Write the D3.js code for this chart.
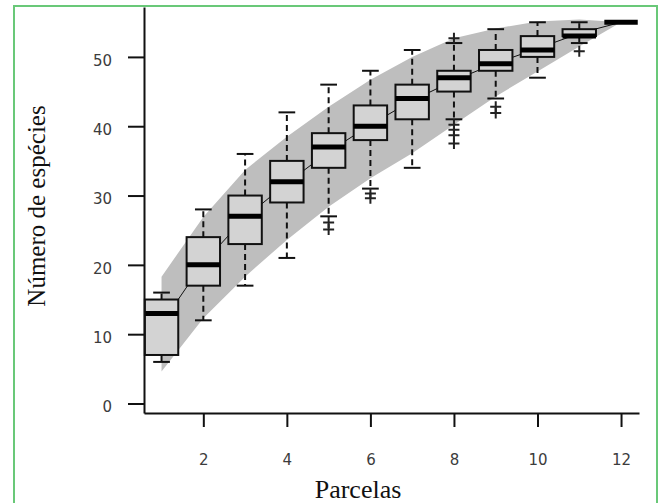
<!DOCTYPE html>
<html>
<head>
<meta charset="utf-8">
<script src="https://cdn.jsdelivr.net/npm/d3@7"></script>
<style>
  body { margin: 0; background: #fff; }
</style>
</head>
<body>
<script>
// species accumulation curve: boxplots per number of plots, mean line and +/- 2 sd envelope
const parcelas = [1, 2, 3, 4, 5, 6, 7, 8, 9, 10, 11, 12];
const whiskerLow = [6, 12, 17, 21, 27, 31, 34, 41, 44, 47, 52, 55];
const q1 = [7, 17, 23, 29, 34, 38, 41, 45, 48, 50, 53, 55];
const median = [13, 20, 27, 32, 37, 40, 44, 47, 49, 51, 53, 55];
const q3 = [15, 24, 30, 35, 39, 43, 46, 48, 51, 53, 54, 55];
const whiskerHigh = [16, 28, 36, 42, 46, 48, 51, 52, 54, 55, 55, 55];
const outliers = [[], [], [], [], [26.1, 25.1], [30.3, 29.6], [], [52.7, 40.2, 39.5, 38.7, 37.5], [42.8, 41.9], [], [50.8], []];
const meanRichness = [11.5, 20.3, 26.8, 31.8, 36.3, 40.2, 43.7, 46.6, 49.1, 51.2, 53.4, 55];
const bandUpper = [18.3, 26.9, 33.7, 38.5, 42.8, 46.7, 50.0, 52.7, 54.1, 55.1, 55.4, 55];
const bandLower = [4.6, 12.3, 18.3, 23.6, 28.4, 32.5, 36.1, 40.2, 44.3, 47.9, 51.5, 55];
const yTicks = [0, 10, 20, 30, 40, 50];
const xTicks = [2, 4, 6, 8, 10, 12];

const width = 662, height = 503;
const plot = {left: 144, right: 639, top: 7, bottom: 413};

const svg = d3.select("body").append("svg")
  .attr("width", width)
  .attr("height", height);

// green frame around the figure
svg.append("rect")
  .attr("x", 14).attr("y", 6)
  .attr("width", 643).attr("height", 520)
  .attr("fill", "none")
  .attr("stroke", "#69c878")
  .attr("stroke-width", 2);

const x = d3.scaleLinear().domain([0.58, 12.43]).range([plot.left, plot.right]);
const y = d3.scaleLinear().domain([-1.37, 57.2]).range([plot.bottom, plot.top]);

const idx = d3.range(parcelas.length);

// envelope
svg.append("path")
  .datum(idx)
  .attr("fill", "#bebebe")
  .attr("d", d3.area()
    .x(i => x(parcelas[i]))
    .y0(i => y(bandLower[i]))
    .y1(i => y(bandUpper[i])));

// mean curve
svg.append("path")
  .datum(idx)
  .attr("fill", "none")
  .attr("stroke", "#111")
  .attr("stroke-width", 1)
  .attr("d", d3.line()
    .x(i => x(parcelas[i]))
    .y(i => y(meanRichness[i])));

const bw = x(0.8) - x(0);
const capW = bw / 2;

const box = svg.selectAll(".box")
  .data(idx)
  .enter().append("g")
  .attr("class", "box");

// whiskers
box.append("line")
  .attr("x1", i => x(parcelas[i])).attr("x2", i => x(parcelas[i]))
  .attr("y1", i => y(q3[i])).attr("y2", i => y(whiskerHigh[i]))
  .attr("stroke", "#111").attr("stroke-width", 2)
  .attr("stroke-dasharray", "6,4");
box.append("line")
  .attr("x1", i => x(parcelas[i])).attr("x2", i => x(parcelas[i]))
  .attr("y1", i => y(q1[i])).attr("y2", i => y(whiskerLow[i]))
  .attr("stroke", "#111").attr("stroke-width", 2)
  .attr("stroke-dasharray", "6,4");

// caps
[whiskerHigh, whiskerLow].forEach(arr => {
  box.append("line")
    .attr("x1", i => x(parcelas[i]) - capW / 2).attr("x2", i => x(parcelas[i]) + capW / 2)
    .attr("y1", i => y(arr[i])).attr("y2", i => y(arr[i]))
    .attr("stroke", "#111").attr("stroke-width", 2);
});

// boxes
box.append("rect")
  .attr("x", i => x(parcelas[i]) - bw / 2)
  .attr("y", i => y(q3[i]))
  .attr("width", bw)
  .attr("height", i => y(q1[i]) - y(q3[i]))
  .attr("fill", "#d3d3d3")
  .attr("stroke", "#111")
  .attr("stroke-width", 2);

// medians
box.append("line")
  .attr("x1", i => x(parcelas[i]) - bw / 2).attr("x2", i => x(parcelas[i]) + bw / 2)
  .attr("y1", i => y(median[i])).attr("y2", i => y(median[i]))
  .attr("stroke", "#000").attr("stroke-width", 5);

// outliers as "+"
const pts = [];
outliers.forEach((arr, i) => arr.forEach(v => pts.push({i: i, v: v})));
svg.selectAll(".out")
  .data(pts)
  .enter().append("path")
  .attr("class", "out")
  .attr("d", d => {
    const cx = x(parcelas[d.i]), cy = y(d.v), s = 5.5;
    return "M" + (cx - s) + "," + cy + "H" + (cx + s) + "M" + cx + "," + (cy - s) + "V" + (cy + s);
  })
  .attr("stroke", "#222")
  .attr("stroke-width", 2);

// axes
const yAxis = svg.append("g")
  .attr("transform", "translate(" + plot.left + ",0)")
  .call(d3.axisLeft(y).tickValues(yTicks).tickSize(16).tickSizeOuter(0).tickPadding(16));
const xAxis = svg.append("g")
  .attr("transform", "translate(0," + plot.bottom + ")")
  .call(d3.axisBottom(x).tickValues(xTicks).tickSize(14).tickSizeOuter(0).tickPadding(27));

[yAxis, xAxis].forEach(g => {
  g.select(".domain").attr("stroke", "#111").attr("stroke-width", 2);
  g.selectAll(".tick line").attr("stroke", "#111").attr("stroke-width", 2);
  g.selectAll(".tick text")
    .attr("fill", "#3c3c3c")
    .style("font-family", "'DejaVu Sans', sans-serif")
    .style("font-size", "15px");
});
yAxis.selectAll(".tick text").attr("dy", "0.55em");

// axis titles
svg.append("text")
  .attr("transform", "translate(45,206) rotate(-90)")
  .style("text-anchor", "middle")
  .style("font-family", "'Liberation Serif', serif")
  .style("font-size", "25px")
  .attr("fill", "#111")
  .text("Número de espécies");

svg.append("text")
  .attr("x", 358)
  .attr("y", 498)
  .style("text-anchor", "middle")
  .style("font-family", "'Liberation Serif', serif")
  .style("font-size", "26px")
  .attr("fill", "#111")
  .text("Parcelas");
</script>
</body>
</html>
